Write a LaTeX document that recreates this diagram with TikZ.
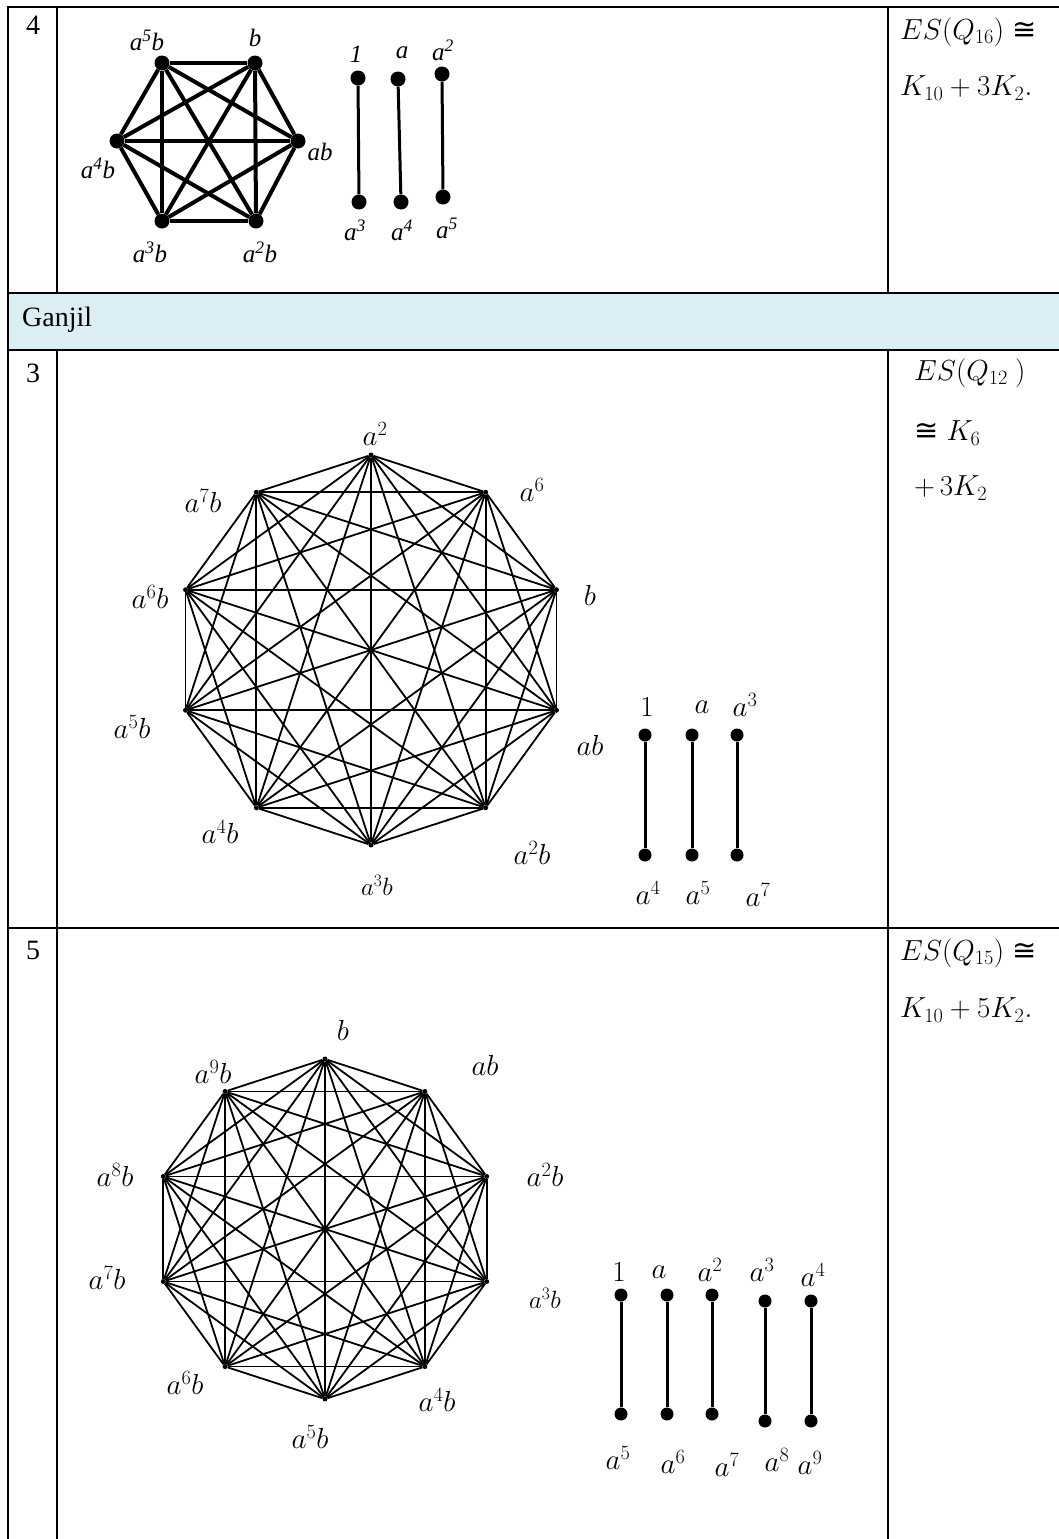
\documentclass[tikz,border=0pt]{standalone}
\usepackage{fix-cm}
\usepackage{fontspec}
\setmainfont{Liberation Serif}
\newfontfamily\isofont{DejaVu Sans}
\definecolor{headblue}{HTML}{DAEEF3}
\newcommand{\iso}{\mathrel{\hbox{\isofont ≅}}}
\begin{document}
\begin{tikzpicture}[x=1pt, y=-1pt,
  rule/.style={line width=2pt},
  cell/.style={font=\fontsize{28}{32}\selectfont, inner sep=0pt},
  res/.style={font=\fontsize{29}{32}\selectfont, anchor=west, inner sep=0pt},
  hdot/.style={circle, fill, inner sep=0pt, minimum size=15pt},
  pdot/.style={circle, fill, inner sep=0pt, minimum size=13pt},
  sdot/.style={circle, fill, inner sep=0pt, minimum size=5pt},
  hedge/.style={line width=4pt},
  pedge/.style={line width=3pt},
  dedge/.style={line width=1.8pt},
  tlbl/.style={font=\fontsize{25}{28}\selectfont\itshape, inner sep=0pt},
  lbl/.style={font=\fontsize{29}{32}\selectfont, inner sep=0pt},
  lblsm/.style={font=\fontsize{25}{28}\selectfont, inner sep=0pt}
]
\useasboundingbox (0,0) rectangle (1059,1539);
\fill[white] (0,0) rectangle (1059,1539);

% table
\fill[headblue] (8,293) rectangle (1059,350);
\draw[rule] (1059,7) -- (8,7) -- (8,1539);
\draw[rule] (57,7) -- (57,293) (57,350) -- (57,1539);
\draw[rule] (888,7) -- (888,293) (888,350) -- (888,1539);
\draw[rule] (8,293) -- (1059,293) (8,350) -- (1059,350) (8,928) -- (1059,928);

\node[cell] (n4) at (33,25) {4};
\node[cell, anchor=west] (ganjil) at (22,320) {Ganjil};
\node[cell] (n3) at (33,373) {3};
\node[cell] (n5) at (33,950) {5};

% results
\node[res] (r1a) at (900,32) {$ES(Q_{16})\iso$};
\node[res] (r1b) at (900,88) {$K_{10}+3K_{2}.$};
\node[res] (r3a) at (914,373) {$ES(Q_{12}\ )$};
\node[res] (r3b) at (914,433) {$\iso K_{6}$};
\node[res] (r3c) at (914,488) {$+\,3K_{2}$};
\node[res] (r5a) at (900,953) {$ES(Q_{15})\iso$};
\node[res] (r5b) at (900,1010) {$K_{10}+5K_{2}.$};

% row 4: K6 + 3K2
\node[hdot] (h1) at (162,63) {};
\node[hdot] (h2) at (255,63) {};
\node[hdot] (h3) at (298,141) {};
\node[hdot] (h4) at (256,221) {};
\node[hdot] (h5) at (162,221) {};
\node[hdot] (h6) at (117,141) {};
\foreach \i in {1,...,6}
  \foreach \j in {1,...,6}
    {\ifnum\i<\j \draw[hedge] (h\i) -- (h\j); \fi}
\node[tlbl] (lh1) at (147,40) {a\textsuperscript{5}b};
\node[tlbl] (lh2) at (255,38) {b};
\node[tlbl] (lh3) at (320,152) {ab};
\node[tlbl] (lh4) at (260,252) {a\textsuperscript{2}b};
\node[tlbl] (lh5) at (150,252) {a\textsuperscript{3}b};
\node[tlbl] (lh6) at (98,168) {a\textsuperscript{4}b};

\node[hdot] (q1) at (358,78) {};
\node[hdot] (q2) at (359,202) {};
\node[hdot] (q3) at (398,79) {};
\node[hdot] (q4) at (401,202) {};
\node[hdot] (q5) at (442,74) {};
\node[hdot] (q6) at (443,197) {};
\draw[pedge] (q1) -- (q2);
\draw[pedge] (q3) -- (q4);
\draw[pedge] (q5) -- (q6);
\node[tlbl] (lq1) at (356,54) {1};
\node[tlbl] (lq3) at (402,53) {a};
\node[tlbl] (lq5) at (443,50) {a\textsuperscript{2}};
\node[tlbl] (lq2) at (355,230) {a\textsuperscript{3}};
\node[tlbl] (lq4) at (402,230) {a\textsuperscript{4}};
\node[tlbl] (lq6) at (447,228) {a\textsuperscript{5}};

% row 3: decagon
\begin{scope}[shift={(371,650)}]
  \foreach \ang [count=\k] in {90,54,18,-18,-54,-90,-126,-162,162,126}
    \node[sdot] (d\k) at (\ang:195pt) {};
\end{scope}
\foreach \i in {1,...,10}
  \foreach \j in {1,...,10}
    {\ifnum\i<\j \draw[dedge] (d\i) -- (d\j); \fi}
\node[lbl] (ld1) at (375,434) {$a^{2}$};
\node[lbl] (ld2) at (532,490) {$a^{6}$};
\node[lbl] (ld3) at (590,595) {$b$};
\node[lbl] (ld4) at (590,745) {$ab$};
\node[lbl] (ld5) at (532,853) {$a^{2}b$};
\node[lblsm] (ld6) at (377,885) {$a^{3}b$};
\node[lbl] (ld7) at (220,832) {$a^{4}b$};
\node[lbl] (ld8) at (132,727) {$a^{5}b$};
\node[lbl] (ld9) at (150,597) {$a^{6}b$};
\node[lbl] (ld10) at (203,501) {$a^{7}b$};

\node[pdot] (s1) at (645,735) {};
\node[pdot] (s2) at (645,855) {};
\node[pdot] (s3) at (692,735) {};
\node[pdot] (s4) at (692,855) {};
\node[pdot] (s5) at (737,735) {};
\node[pdot] (s6) at (737,855) {};
\draw[pedge] (s1) -- (s2);
\draw[pedge] (s3) -- (s4);
\draw[pedge] (s5) -- (s6);
\node[lbl] (ls1) at (647,707) {$1$};
\node[lbl] (ls3) at (702,707) {$a$};
\node[lbl] (ls5) at (745,705) {$a^{3}$};
\node[lbl] (ls2) at (648,893) {$a^{4}$};
\node[lbl] (ls4) at (698,893) {$a^{5}$};
\node[lbl] (ls6) at (758,895) {$a^{7}$};

% row 5: decagon
\begin{scope}[shift={(325,1229)}]
  \foreach \ang [count=\k] in {90,54,18,-18,-54,-90,-126,-162,162,126}
    \node[sdot] (e\k) at (\ang:170pt) {};
\end{scope}
\foreach \i in {1,...,10}
  \foreach \j in {1,...,10}
    {\ifnum\i<\j \draw[dedge] (e\i) -- (e\j); \fi}
\node[lbl] (le1) at (343,1030) {$b$};
\node[lbl] (le2) at (485,1065) {$ab$};
\node[lbl] (le3) at (545,1175) {$a^{2}b$};
\node[lblsm] (le4) at (545,1298) {$a^{3}b$};
\node[lbl] (le5) at (437,1400) {$a^{4}b$};
\node[lbl] (le6) at (310,1437) {$a^{5}b$};
\node[lbl] (le7) at (185,1383) {$a^{6}b$};
\node[lbl] (le8) at (107,1278) {$a^{7}b$};
\node[lbl] (le9) at (115,1175) {$a^{8}b$};
\node[lbl] (le10) at (213,1072) {$a^{9}b$};

\node[pdot] (t1) at (621,1295) {};
\node[pdot] (t2) at (621,1414) {};
\node[pdot] (t3) at (667,1295) {};
\node[pdot] (t4) at (667,1414) {};
\node[pdot] (t5) at (712,1295) {};
\node[pdot] (t6) at (712,1414) {};
\node[pdot] (t7) at (765,1301) {};
\node[pdot] (t8) at (765,1421) {};
\node[pdot] (t9) at (811,1301) {};
\node[pdot] (t10) at (811,1421) {};
\foreach \i/\j in {1/2,3/4,5/6,7/8,9/10}
  \draw[pedge] (t\i) -- (t\j);
\node[lbl] (lt1) at (619,1272) {$1$};
\node[lbl] (lt3) at (659,1272) {$a$};
\node[lbl] (lt5) at (710,1270) {$a^{2}$};
\node[lbl] (lt7) at (762,1270) {$a^{3}$};
\node[lbl] (lt9) at (813,1275) {$a^{4}$};
\node[lbl] (lt2) at (618,1458) {$a^{5}$};
\node[lbl] (lt4) at (673,1462) {$a^{6}$};
\node[lbl] (lt6) at (727,1465) {$a^{7}$};
\node[lbl] (lt8) at (777,1460) {$a^{8}$};
\node[lbl] (lt10) at (810,1463) {$a^{9}$};
\end{tikzpicture}
\end{document}
